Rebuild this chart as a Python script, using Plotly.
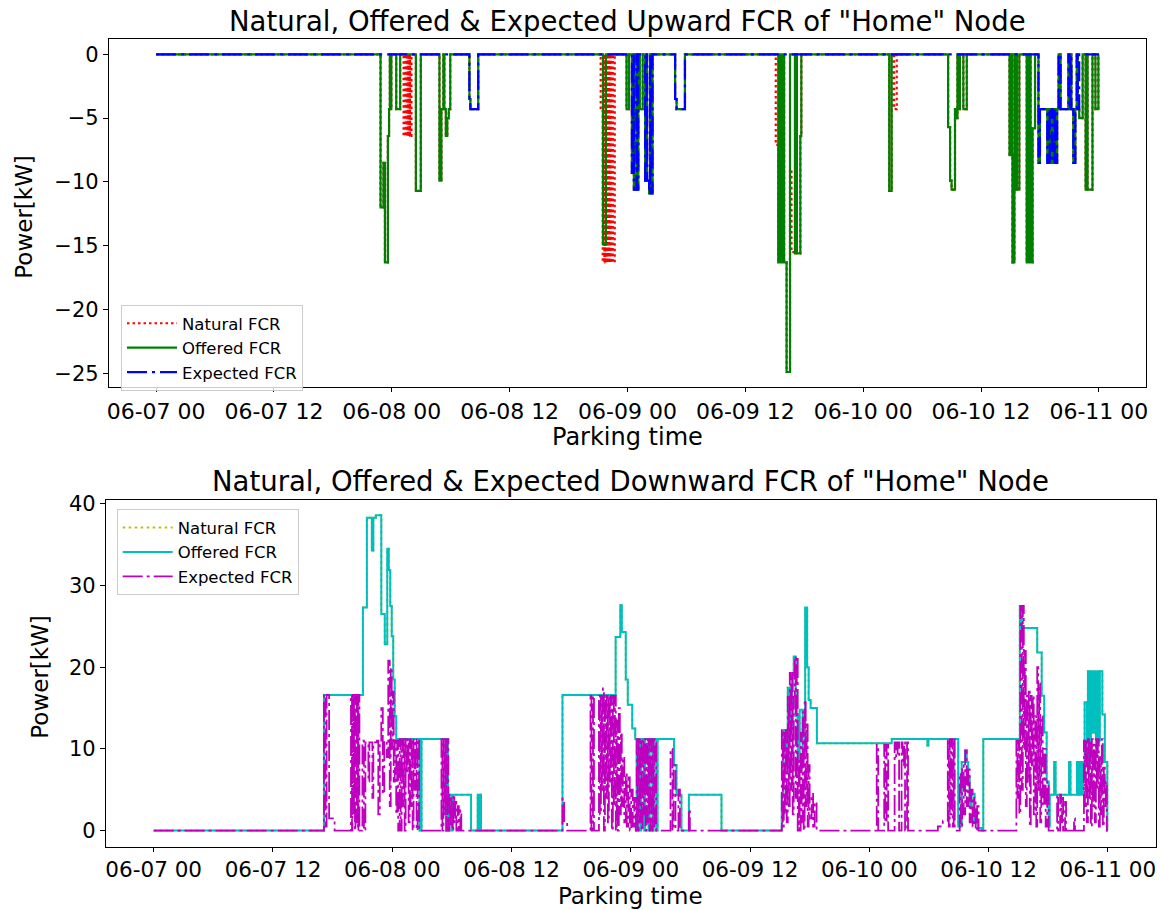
import pandas as pd
import plotly.graph_objects as go

START = pd.Timestamp("2021-06-07 00:00")
FONT = "DejaVu Sans"

# ---- Upward FCR (kW), step series: hours since 06-07 00:00 -> value ----
up_natural_h = [0, 22.85, 23.15, 23.3, 23.6, 23.72, 23.8, 23.85, 23.95, 24.45, 24.85,
                25.2, 25.35, 25.42, 25.58, 25.65, 25.8, 25.85, 26.0,
                26.45, 26.95,
                28.85, 29.05, 29.25, 29.35, 29.5, 29.65, 29.8, 29.95,
                31.9, 32.0, 32.8,
                45.27, 45.48, 45.65, 45.7, 45.85, 45.9, 46.05, 46.1, 46.25, 46.3, 46.45, 46.5, 46.7,
                47.9, 48.15, 48.45, 48.6, 48.65, 48.9, 48.95, 49.1, 49.25, 49.55,
                49.8, 49.95, 50.0, 50.2, 50.3, 50.35, 50.55,
                52.85, 53.0, 53.85,
                63.1, 63.35, 63.5, 63.55, 63.7, 63.75, 63.9, 63.95, 64.2, 64.55, 64.7, 65.05, 65.2, 65.25, 65.6, 65.7,
                74.65, 74.9, 75.15, 75.42,
                80.65, 80.85, 81.0, 81.35, 81.5, 81.6, 81.65, 81.85, 82.2, 82.55,
                86.9, 87.1, 87.15, 87.2, 87.4, 87.45, 87.6, 87.65, 87.9,
                88.65, 88.8, 88.85, 89.0, 89.05, 89.25, 89.5,
                89.85, 90.0, 90.75, 90.9, 91.0, 91.2, 91.3, 91.5, 91.55, 91.75, 91.9, 92.1, 92.9,
                93.0, 93.1, 93.2, 93.4, 93.6, 93.75, 93.85, 94.0, 94.35,
                94.65, 94.8, 94.85, 95.35, 95.65, 95.95, 96.0]
up_natural_kw = [0, -12.0, -8.5, -16.3, -6.4, -4.3, 0, -4.3, 0, -4.3, 0,
                 -6.4, 0, -6.4, 0, -6.4, 0, -6.4, 0,
                 -10.7, 0,
                 -9.9, -4.3, 0, -4.3, -6.4, -5.0, -4.3, 0,
                 -3.5, -4.3, 0,
                 -4.3, -16.3, 0, -16.3, 0, -16.3, 0, -16.3, 0, -16.3, 0, -16.3, 0,
                 -4.3, 0, -9.3, 0, -10.6, 0, -10.6, 0, -4.3, 0,
                 -9.9, 0, -9.9, -10.9, 0, -10.9, 0,
                 -3.5, -4.3, 0,
                 -7.1, -16.3, 0, -16.3, 0, -16.3, 0, -16.3, -24.9, -9.0, -15.5, -15.6, 0, -15.6, -6.4, 0,
                 -10.7, 0, -4.3, 0,
                 -5.7, -9.9, -10.6, -4.3, -5.0, 0, -4.3, 0, -4.3, 0,
                 -7.9, 0, -7.9, -16.3, 0, -10.6, 0, -10.6, 0,
                 -16.3, 0, -16.3, 0, -16.3, -5.8, 0,
                 -8.5, -4.3, -8.5, -4.3, -8.5, -4.3, -8.5, -4.3, -8.5, -4.3, 0, -4.3, 0,
                 -4.3, 0, -4.3, -8.5, -4.3, 0, -4.3, -5.0, 0,
                 -10.6, 0, -10.6, 0, -4.3, 0, 0]

up_offered_h = [0, 22.85, 23.15, 23.3, 23.6, 23.72, 23.8, 23.85, 23.95, 24.45, 24.85,
                26.45, 26.95,
                28.85, 29.05, 29.25, 29.35, 29.5, 29.65, 29.8, 29.95,
                31.9, 32.0, 32.8,
                45.5, 45.8,
                47.9, 48.15, 48.45, 48.6, 48.65, 48.9, 48.95, 49.1, 49.25, 49.55,
                49.8, 49.95, 50.0, 50.2, 50.3, 50.35, 50.55,
                52.85, 53.0, 53.85,
                63.35, 63.5, 63.55, 63.7, 63.75, 63.9, 63.95, 64.2, 64.55, 65.05, 65.2, 65.25, 65.6, 65.7,
                74.65, 74.9,
                80.65, 80.85, 81.0, 81.35, 81.5, 81.6, 81.65, 81.85, 82.2, 82.55,
                86.9, 87.1, 87.15, 87.2, 87.4, 87.45, 87.6, 87.65, 87.9,
                88.65, 88.8, 88.85, 89.0, 89.05, 89.25, 89.5,
                89.85, 90.0, 90.75, 90.9, 91.0, 91.2, 91.3, 91.5, 91.55, 91.75, 91.9, 92.1, 92.9,
                93.0, 93.1, 93.2, 93.4, 93.6, 93.75, 93.85, 94.0, 94.35,
                94.65, 94.8, 94.85, 95.35, 95.65, 95.95, 96.0]
up_offered_kw = [0, -12.0, -8.5, -16.3, -6.4, -4.3, 0, -4.3, 0, -4.3, 0,
                 -10.7, 0,
                 -9.9, -4.3, 0, -4.3, -6.4, -5.0, -4.3, 0,
                 -3.5, -4.3, 0,
                 -14.9, 0,
                 -4.3, 0, -9.3, 0, -10.6, 0, -10.6, 0, -4.3, 0,
                 -9.9, 0, -9.9, -10.9, 0, -10.9, 0,
                 -3.5, -4.3, 0,
                 -16.3, 0, -16.3, 0, -16.3, 0, -16.3, -24.9, 0, -15.6, 0, -15.6, -6.4, 0,
                 -10.7, 0,
                 -5.7, -9.9, -10.6, -4.3, -5.0, 0, -4.3, 0, -4.3, 0,
                 -7.9, 0, -7.9, -16.3, 0, -10.6, 0, -10.6, 0,
                 -16.3, 0, -16.3, 0, -16.3, -5.8, 0,
                 -8.5, -4.3, -8.5, -4.3, -8.5, -4.3, -8.5, -4.3, -8.5, -4.3, 0, -4.3, 0,
                 -4.3, 0, -4.3, -8.5, -4.3, 0, -4.3, -5.0, 0,
                 -10.6, 0, -10.6, 0, -4.3, 0, 0]

up_expected_h = [0, 31.9, 32.0, 32.8,
                 48.45, 48.6, 48.65, 48.9, 48.95, 49.1,
                 49.8, 49.95, 50.0, 50.2, 50.3, 50.35, 50.55,
                 52.85, 53.0, 53.85,
                 89.85, 90.0, 90.75, 90.9, 91.0, 91.2, 91.3, 91.5, 91.55, 91.75, 91.9, 92.1, 92.9,
                 93.0, 93.1, 93.2, 93.4, 93.6, 93.75, 93.85, 94.0, 96.0]
up_expected_kw = [0, -3.5, -4.3, 0,
                  -9.3, 0, -10.6, 0, -10.6, 0,
                  -9.9, 0, -9.9, -10.9, 0, -10.9, 0,
                  -3.5, -4.3, 0,
                  -8.5, -4.3, -8.5, -4.3, -8.5, -4.3, -8.5, -4.3, -8.5, -4.3, 0, -4.3, 0,
                  -4.3, 0, -4.3, -8.5, -4.3, 0, -4.3, 0, 0]

# ---- Downward FCR (kW) ----
down_offered_h = [0, 17.13, 21.05, 21.45, 21.95, 22.1, 22.35, 22.9, 23.25, 23.5, 23.65, 23.8, 23.95,
                  24.1, 24.25, 24.4, 26.75, 26.95, 29.4, 29.5, 29.6, 29.75, 30.0, 30.1, 31.93,
                  32.6, 32.7, 32.8, 32.93,
                  41.13, 46.48, 46.95, 47.1, 47.5, 47.7, 48.15, 48.45,
                  48.6, 48.7, 48.95, 49.05, 49.35, 49.45, 49.8, 49.9, 50.2, 50.3, 50.6, 50.7,
                  52.35, 52.6, 53.1, 53.85, 57.13,
                  63.2, 63.35, 63.6, 63.8, 64.0, 64.2, 64.4, 64.6, 64.8, 65.0, 65.3, 65.55, 65.75,
                  65.9, 66.1, 66.73, 74.26, 77.85, 77.95,
                  80.95, 81.3, 81.65, 81.8, 81.95, 82.1, 82.3, 82.6, 82.9, 83.3, 83.47,
                  87.15, 87.35, 88.9, 89.35, 89.6, 89.85, 90.05, 90.16,
                  90.6, 90.75, 92.1, 92.25, 92.9, 93.0, 93.1, 93.2, 93.3, 93.4, 93.5, 93.67,
                  93.9, 94.0, 94.2, 94.3, 94.5, 94.6, 94.8, 94.9, 95.1, 95.2, 95.45, 95.7, 95.95, 96.0]
down_offered_kw = [0, 16.6, 27.3, 38.3, 34.3, 38.3, 38.6, 26.5, 22.8, 34.5, 31.9, 27.5, 23.8,
                   18.5, 14.0, 11.2, 0, 11.2, 0, 11.2, 0, 4.4, 0, 4.4, 0,
                   4.4, 0, 4.4, 0,
                   16.6, 23.7, 27.6, 24.3, 18.5, 15.4, 12.5, 11.2,
                   0, 11.2, 0, 11.2, 0, 11.2, 0, 11.2, 0, 11.2, 0, 11.2,
                   8.0, 4.4, 0, 4.4, 0,
                   4.5, 12.3, 8.0, 17.5, 13.0, 19.0, 21.3, 14.0, 8.5, 14.8, 10.0, 27.3, 20.0,
                   16.0, 15.0, 10.7, 11.2, 10.4, 11.2,
                   0.5, 8.4, 9.8, 8.4, 6.5, 3.0, 4.5, 1.0, 0.3, 0, 11.2,
                   27.5, 24.8, 21.8, 16.5, 12.0, 6.0, 0.5, 4.4,
                   8.4, 4.4, 8.4, 4.4, 8.4, 4.4, 8.4, 4.4, 8.4, 4.4, 8.4, 15.7,
                   8.0, 19.5, 10.0, 19.5, 12.0, 19.5, 9.0, 19.5, 11.0, 19.5, 14.2, 8.4, 0, 0]

# natural downward capacity coincides with the offered one over the horizon
down_natural_h = list(down_offered_h)
down_natural_kw = list(down_offered_kw)

down_expected_h = [0, 17.13, 17.3, 17.4, 17.65, 18.2,
                   19.85, 19.95, 20.0, 20.1, 20.15, 20.25, 20.3, 20.4, 20.45, 20.55, 20.6, 20.7,
                   21.0, 21.15, 21.3, 21.6, 21.7, 22.0, 22.1, 22.45, 22.6, 22.75, 22.9, 23.05,
                   23.2, 23.45, 23.6, 23.75, 23.85, 23.95, 24.05, 24.15, 24.25, 24.4, 24.5, 24.6,
                   24.75, 24.85, 24.95, 25.05, 25.15, 25.25, 25.35, 25.45, 25.55, 25.65, 25.75,
                   25.85, 25.95, 26.05, 26.15, 26.25, 26.35, 26.45, 26.55, 26.7,
                   28.95, 29.05, 29.15, 29.25, 29.35, 29.45, 29.55, 29.65, 29.75, 29.85, 29.95,
                   30.05, 30.15, 30.25, 30.35, 30.45, 30.6, 30.7, 30.85, 30.95,
                   41.13, 41.3, 41.6, 43.95, 44.05, 44.2, 44.3,
                   44.8, 44.9, 45.0, 45.1, 45.2, 45.3, 45.4, 45.5, 45.6, 45.7, 45.8, 45.9, 46.0,
                   46.1, 46.2, 46.3, 46.4, 46.5, 46.6, 46.7, 46.8, 46.9, 47.0, 47.1, 47.2, 47.35,
                   47.5, 47.6, 47.75, 47.9, 48.05, 48.2, 48.35, 48.5,
                   48.6, 48.7, 48.8, 48.9, 49.0, 49.1, 49.2, 49.3, 49.4, 49.5, 49.6, 49.7, 49.8,
                   49.9, 50.0, 50.1, 50.2, 50.3, 50.4, 50.55,
                   52.0, 52.2, 52.3, 52.5, 52.8, 52.95, 53.85, 53.95,
                   63.2, 63.3, 63.4, 63.5, 63.6, 63.7, 63.8, 63.9, 64.0, 64.1, 64.2, 64.3, 64.4,
                   64.5, 64.6, 64.7, 64.8, 64.9, 65.0, 65.1, 65.2, 65.3, 65.4, 65.5, 65.6, 65.7,
                   65.8, 65.9, 66.0, 66.2, 66.35, 66.5, 66.7,
                   72.75, 72.9, 73.5, 73.6, 73.75, 73.9, 74.55, 74.7, 74.85, 75.0, 75.25, 75.35,
                   75.5, 75.6, 75.8, 75.9,
                   78.9, 79.4, 79.9, 80.0, 80.1, 80.2, 80.3, 80.4, 80.5, 80.6, 81.1, 81.2, 81.35,
                   81.5, 81.65, 81.8, 81.95, 82.1, 82.25, 82.4, 82.55, 82.7, 82.85, 83.0,
                   86.8, 86.9, 87.0, 87.1, 87.2, 87.35, 87.45, 87.55, 87.65, 87.75, 87.85, 87.95,
                   88.05, 88.15, 88.25, 88.35, 88.45, 88.55, 88.7, 88.8, 88.9, 89.0, 89.1, 89.2,
                   89.3, 89.45, 89.6, 89.75, 89.9, 90.05,
                   90.9, 91.0, 91.2, 91.3, 91.4, 91.5, 91.7, 91.8, 92.6, 92.7,
                   93.6, 93.7, 93.8, 93.9, 94.0, 94.1, 94.2, 94.3, 94.4, 94.5, 94.6, 94.7, 94.8,
                   94.9, 95.0, 95.1, 95.2, 95.3, 95.4, 95.5, 95.6, 95.7, 95.8, 95.9, 96.0]
down_expected_kw = [0, 16.6, 0.5, 16.6, 1.5, 0,
                    16.6, 0, 16.6, 2.0, 16.6, 0, 16.6, 1.0, 16.6, 0, 16.6, 0,
                    11.0, 0, 10.8, 6.0, 10.8, 4.0, 10.8, 11.0, 2.0, 11.0, 15.0, 4.5,
                    11.0, 9.0, 20.8, 3.0, 20.0, 10.0, 17.0, 6.0, 11.0, 2.0, 11.0, 0,
                    11.2, 0, 11.2, 3.0, 11.2, 0, 11.2, 7.0, 11.2, 1.0, 11.2,
                    3.0, 11.2, 0, 11.2, 5.0, 11.2, 0, 11.2, 0,
                    11.2, 0, 11.2, 2.0, 11.2, 0, 11.2, 0, 4.4, 0.5, 4.0,
                    0, 4.4, 1.0, 3.5, 0, 3.0, 0, 2.5, 0,
                    3.9, 1.0, 0, 16.5, 0, 16.5, 0,
                    16.5, 2.0, 16.5, 5.0, 17.4, 0, 16.5, 4.0, 16.5, 1.0, 16.5, 6.0, 16.5,
                    0, 16.5, 3.0, 16.5, 0, 13.5, 0, 15.0, 2.0, 12.0, 3.0, 9.0, 1.0,
                    7.0, 0.5, 6.5, 0, 5.0, 0.5, 4.0, 0,
                    11.2, 0, 11.2, 1.0, 11.2, 0, 11.2, 2.0, 11.2, 0, 11.2, 1.0, 11.2,
                    0, 11.2, 0, 11.2, 0.5, 11.2, 0,
                    10.0, 0, 8.0, 0, 5.0, 0, 2.6, 0,
                    12.3, 0.5, 12.3, 2.0, 12.3, 1.0, 16.4, 3.0, 19.3, 5.0, 19.3, 2.0, 16.4,
                    21.3, 4.0, 21.3, 0, 8.5, 0, 12.0, 1.0, 14.5, 0, 16.0, 3.0, 13.0,
                    0.5, 8.0, 1.5, 4.5, 0.5, 3.5, 0,
                    10.5, 0, 10.5, 1.0, 10.5, 0, 10.8, 9.0, 10.8, 0, 10.8, 8.0,
                    10.8, 0, 10.8, 0,
                    0.5, 1.2, 11.2, 0.5, 11.2, 2.0, 11.2, 0.5, 11.2, 0, 7.0, 0.5, 8.0,
                    2.0, 9.8, 3.0, 7.5, 1.0, 5.0, 0.5, 4.0, 0, 3.0, 0,
                    11.0, 4.0, 11.0, 2.0, 27.5, 5.0, 27.5, 10.0, 22.0, 3.0, 16.5, 6.0,
                    17.0, 0.5, 16.5, 8.0, 16.5, 2.0, 14.0, 0.5, 20.0, 5.0, 18.0, 1.0,
                    14.0, 3.0, 10.0, 0.5, 6.0, 0,
                    4.4, 0, 4.4, 1.0, 4.0, 0, 3.5, 0, 1.5, 0,
                    11.0, 3.0, 11.2, 1.0, 11.2, 4.0, 11.0, 0.5, 11.2, 3.0, 10.5, 1.0, 11.2,
                    5.0, 11.2, 0.5, 9.0, 2.0, 11.2, 0.5, 8.0, 3.0, 6.0, 0, 0]


def stamps(hours):
    return [START + pd.Timedelta(hours=h) for h in hours]


def step(hours, values, name, color, dash, width, xa, ya, legend):
    return go.Scatter(x=stamps(hours), y=values, name=name, mode="lines",
                      line=dict(color=color, dash=dash, width=width, shape="hv"),
                      xaxis=xa, yaxis=ya, legend=legend)


W, H = 1160, 910

fig = go.Figure()
fig.add_trace(step(up_natural_h, up_natural_kw, "Natural FCR", "#ff0000", "2.5px,3px", 2.2, "x", "y", "legend"))
fig.add_trace(step(up_offered_h, up_offered_kw, "Offered FCR", "#008000", "solid", 2.2, "x", "y", "legend"))
fig.add_trace(step(up_expected_h, up_expected_kw, "Expected FCR", "#0000ff", "20px,5px,3px,5px", 2.2, "x", "y", "legend"))
fig.add_trace(step(down_natural_h, down_natural_kw, "Natural FCR", "#bfbf00", "2.5px,3.5px", 2.0, "x2", "y2", "legend2"))
fig.add_trace(step(down_offered_h, down_offered_kw, "Offered FCR", "#00bfbf", "solid", 2.0, "x2", "y2", "legend2"))
fig.add_trace(step(down_expected_h, down_expected_kw, "Expected FCR", "#bf00bf", "20px,4px,3px,4px", 1.8, "x2", "y2", "legend2"))

x_lo = (START - pd.Timedelta(hours=4.8)).strftime("%Y-%m-%d %H:%M:%S")
x_hi = (START + pd.Timedelta(hours=100.8)).strftime("%Y-%m-%d %H:%M:%S")

axis_style = dict(showline=True, linecolor="black", linewidth=1.2, mirror=True,
                  ticks="outside", tickwidth=1.2, tickcolor="black",
                  showgrid=False, zeroline=False, automargin=False)

x_common = dict(type="date", range=[x_lo, x_hi], tickformat="%m-%d %H",
                tick0=START.strftime("%Y-%m-%d %H:%M:%S"), dtick=12 * 3600 * 1000,
                ticklen=4, **axis_style)

legend_style = dict(xanchor="left", yanchor="top",
                    bgcolor="rgba(255,255,255,0.8)", bordercolor="#cccccc", borderwidth=1,
                    font=dict(family=FONT, size=16.5, color="black"), itemwidth=50,
                    tracegroupgap=0)

fig.update_layout(
    width=W, height=H,
    margin=dict(l=0, r=0, t=0, b=0),
    paper_bgcolor="white", plot_bgcolor="white",
    font=dict(family=FONT, color="black"),
    xaxis=dict(domain=[109 / W, 1146 / W], anchor="y",
               tickfont=dict(family=FONT, size=22, color="black"), **x_common),
    yaxis=dict(domain=[1 - 387.3 / H, 1 - 39.3 / H], anchor="x", range=[-26.1, 1.18],
               tick0=0, dtick=5, ticklen=5,
               tickfont=dict(family=FONT, size=21, color="black"), **axis_style),
    xaxis2=dict(domain=[106 / W, 1155.5 / W], anchor="y2",
                tickfont=dict(family=FONT, size=21.5, color="black"), **x_common),
    yaxis2=dict(domain=[1 - 846.5 / H, 1 - 500 / H], anchor="x2", range=[-1.95, 40.47],
                tick0=0, dtick=10, ticklen=5,
                tickfont=dict(family=FONT, size=21, color="black"), **axis_style),
    legend=dict(x=121 / W, y=1 - 305 / H, **legend_style),
    legend2=dict(x=116.7 / W, y=1 - 509.3 / H, **legend_style),
    showlegend=True,
)

texts = [
    ("Natural, Offered & Expected Upward FCR of \"Home\" Node", 627.5, 21.0, 27.5, 0),
    ("Natural, Offered & Expected Downward FCR of \"Home\" Node", 630.7, 481.0, 27.5, 0),
    ("Parking time", 627.5, 437, 24, 0),
    ("Parking time", 630.7, 896, 23, 0),
    ("Power[kW]", 24, 216.7, 23, -90),
    ("Power[kW]", 40, 676.7, 23, -90),
]
for txt, px, py, size, angle in texts:
    fig.add_annotation(text=txt, x=px / W, y=1 - py / H, xref="paper", yref="paper",
                       xanchor="center", yanchor="middle", showarrow=False, textangle=angle,
                       font=dict(family=FONT, size=size, color="black"))

fig.write_html("out.html")
